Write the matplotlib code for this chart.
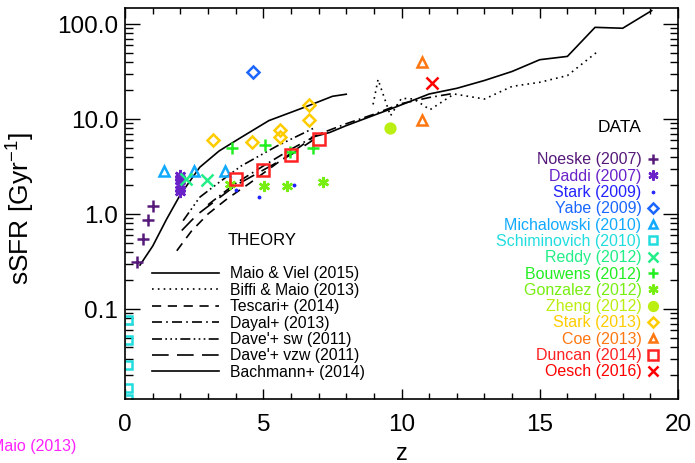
import matplotlib
matplotlib.use("Agg")
import matplotlib.pyplot as plt
from matplotlib.ticker import FixedLocator, NullFormatter

plt.rcParams['font.family'] = ['Liberation Sans', 'DejaVu Sans']
plt.rcParams['mathtext.default'] = 'regular'

# ---- theory curves (z, sSFR) ----
maio_viel_z = [0.54, 1.0, 1.5, 2.0, 2.7, 3.4, 4.2, 5.2, 6.5, 7.5, 8.0]
maio_viel_y = [0.29, 0.46, 0.88, 1.6, 3.1, 4.6, 6.4, 9.6, 13.3, 17.3, 18.2]

biffi_z = [8.97, 9.15, 9.6, 10.0, 10.45, 11.03, 11.9, 13.0, 14.0, 15.0, 16.0, 17.05]
biffi_y = [14.2, 26.0, 10.8, 16.5, 16.2, 12.5, 18.3, 16.2, 22.0, 24.3, 28.6, 50.0]

tescari_z = [1.87, 2.4, 3.0, 3.7, 4.5, 5.6, 6.8]
tescari_y = [0.41, 0.66, 1.0, 1.45, 2.1, 3.6, 6.4]

dayal_z = [3.0, 4.0, 5.0, 6.0, 7.0, 8.0, 9.0, 10.0, 11.0, 11.9]
dayal_y = [1.25, 2.1, 3.2, 4.8, 6.9, 8.9, 11.2, 14.5, 16.8, 18.6]

dave_sw_z = [2.1, 2.7, 3.4, 4.2, 5.5, 6.9]
dave_sw_y = [0.85, 1.5, 2.15, 3.2, 5.2, 8.2]

dave_vzw_z = [2.05, 2.6, 3.3, 4.0, 5.0, 6.0, 6.8]
dave_vzw_y = [0.67, 0.98, 1.4, 2.0, 2.9, 4.2, 6.0]

bachmann_z = [6.75, 7.4, 8.0, 9.6, 11.0, 12.0, 13.0, 14.0, 15.0, 16.0, 17.0, 18.0, 19.05]
bachmann_y = [6.4, 7.2, 8.5, 12.7, 18.3, 21.0, 25.4, 31.6, 42.0, 45.5, 92.0, 90.0, 138.0]

theory_labels = ['Maio & Viel (2015)', 'Biffi & Maio (2013)', 'Tescari+ (2014)',
                 'Dayal+ (2013)', "Dave'+ sw (2011)", "Dave'+ vzw (2011)",
                 'Bachmann+ (2014)']

# ---- observations ----
noeske_z = [0.42, 0.64, 0.82, 1.0]
noeske_y = [0.31, 0.55, 0.87, 1.22]
daddi_z = [2.0, 2.0, 2.0, 2.0, 2.0, 2.0]
daddi_y = [1.7, 1.85, 2.0, 2.2, 2.4, 2.6]
stark09_z = [4.0, 4.85, 6.1]
stark09_y = [1.8, 1.5, 2.0]
yabe_z = [4.62]
yabe_y = [31.0]
micha_z = [1.39, 2.5, 3.62]
micha_y = [2.85, 2.85, 2.85]
schim_z = [0.1, 0.1, 0.1, 0.1, 0.1]
schim_y = [0.077, 0.047, 0.026, 0.0148, 0.0112]
reddy_z = [2.2, 2.95]
reddy_y = [2.34, 2.28]
bouwens_z = [3.88, 5.07, 5.98, 6.81]
bouwens_y = [5.0, 5.3, 4.5, 5.0]
gonzalez_z = [3.8, 5.04, 5.85, 7.17]
gonzalez_y = [2.07, 1.99, 1.99, 2.19]
zheng_z = [9.6]
zheng_y = [8.0]
stark13_z = [3.17, 4.58, 5.6, 5.6, 6.65, 6.65]
stark13_y = [6.05, 5.7, 7.6, 6.5, 9.7, 14.0]
coe_z = [10.73, 10.73]
coe_y = [39.5, 9.8]
duncan_z = [4.01, 5.0, 6.0, 7.02]
duncan_y = [2.33, 2.93, 4.2, 6.2]
oesch_z = [11.1]
oesch_y = [23.8]

data_labels = ['Noeske (2007)', 'Daddi (2007)', 'Stark (2009)', 'Yabe (2009)',
               'Michalowski (2010)', 'Schiminovich (2010)', 'Reddy (2012)',
               'Bouwens (2012)', 'Gonzalez (2012)', 'Zheng (2012)', 'Stark (2013)',
               'Coe (2013)', 'Duncan (2014)', 'Oesch (2016)']
data_colors = ['#55197a', '#6a22c8', '#2222ff', '#1a66ff', '#11aaff', '#22dddd',
               '#22ee88', '#22ee22', '#77ee11', '#bbee11', '#ffcc00', '#ff7711',
               '#ff2222', '#ff0000']
asterisk = (6, 2, 0)
data_markers = ['+', asterisk, '.', 'D', '^', 's', 'x', '+', asterisk, 'o', 'D', '^', 's', 'x']
data_sizes = [8, 8, 2, 6, 7, 6, 8, 8, 8, 7, 6, 7, 8, 8]
data_sets = [(noeske_z, noeske_y), (daddi_z, daddi_y), (stark09_z, stark09_y),
             (yabe_z, yabe_y), (micha_z, micha_y), (schim_z, schim_y),
             (reddy_z, reddy_y), (bouwens_z, bouwens_y), (gonzalez_z, gonzalez_y),
             (zheng_z, zheng_y), (stark13_z, stark13_y), (coe_z, coe_y),
             (duncan_z, duncan_y), (oesch_z, oesch_y)]

fig = plt.figure(figsize=(6.95, 4.64), dpi=100)
ax = fig.add_axes([0.18, 0.138, 0.7955, 0.8426])

styles = ['-', (0, (1, 2.5)), (0, (5.5, 4)), (0, (6, 2.5, 1, 2.5)),
          (0, (6, 2, 1, 2, 1, 2, 1, 2)), (0, (10, 5)), '-']
curves = [(maio_viel_z, maio_viel_y), (biffi_z, biffi_y), (tescari_z, tescari_y),
          (dayal_z, dayal_y), (dave_sw_z, dave_sw_y), (dave_vzw_z, dave_vzw_y),
          (bachmann_z, bachmann_y)]
for (cz, cy), ls in zip(curves, styles):
    ax.plot(cz, cy, color='black', linestyle=ls, linewidth=1.2)

for (dz, dy), col, mk, ms in zip(data_sets, data_colors, data_markers, data_sizes):
    filled = mk in ('.', 'o')
    ax.plot(dz, dy, linestyle='none', marker=mk, markersize=ms,
            markeredgewidth=1.8, color=col,
            markerfacecolor=col if filled else 'none', clip_on=True)

ax.set_yscale('log')
ax.set_xlim(0, 20)
ax.set_ylim(0.0113, 147)
ax.yaxis.set_major_locator(FixedLocator([0.1, 1, 10, 100]))
ax.set_yticklabels(['0.1', '1.0', '10.0', '100.0'])
ax.yaxis.set_minor_locator(FixedLocator([m * 10.0 ** e for e in range(-2, 3) for m in range(2, 10)]))
ax.yaxis.set_minor_formatter(NullFormatter())
ax.set_xticks([0, 5, 10, 15, 20])
ax.set_xticks(range(0, 21), minor=True)
ax.tick_params(which='both', direction='in', top=True, right=True, labelsize=17.5, width=1)
ax.tick_params(axis='y', which='major', length=11, pad=5)
ax.tick_params(axis='y', which='minor', length=6)
ax.tick_params(axis='x', which='major', length=7, pad=10)
ax.tick_params(axis='x', which='minor', length=4)
for sp in ax.spines.values():
    sp.set_linewidth(1.2)
ax.set_xlabel('z', fontsize=17)
ax.xaxis.set_label_coords(0.5, -0.11)
ax.set_ylabel('sSFR [Gyr$^{-1}$]', fontsize=19)
ax.yaxis.set_label_coords(-0.159, 0.49)

# theory legend
ax.text(0.248, 0.409, 'THEORY', transform=ax.transAxes, fontsize=12, ha='center', va='center')
for i, (lab, ls) in enumerate(zip(theory_labels, styles)):
    yy = (400 - (274 + 16.4 * i)) / 391
    ax.plot([0.048, 0.169], [yy, yy], transform=ax.transAxes, color='black',
            linestyle=ls, linewidth=1.2, clip_on=False)
    ax.text(0.189, yy, lab, transform=ax.transAxes, fontsize=11.3, va='center')

# data legend
ax.text(0.895, 0.698, 'DATA', transform=ax.transAxes, fontsize=12.5, ha='center', va='center')
for i, (lab, col, mk, ms) in enumerate(zip(data_labels, data_colors, data_markers, data_sizes)):
    yy = (400 - (160 + 16.3 * i)) / 391
    filled = mk in ('.', 'o')
    ax.text(0.934, yy, lab, transform=ax.transAxes, fontsize=11.5, ha='right',
            va='center', color=col)
    ax.plot([0.955], [yy], transform=ax.transAxes, marker=mk, markersize=ms * 0.9,
            markeredgewidth=1.8, color=col, markerfacecolor=col if filled else 'none',
            linestyle='none', clip_on=False)

fig.text(0.11, 0.037, 'Maio (2013)', color='#ff22ff', fontsize=11.5, ha='right', va='center')

fig.savefig('out.png', dpi=100)
